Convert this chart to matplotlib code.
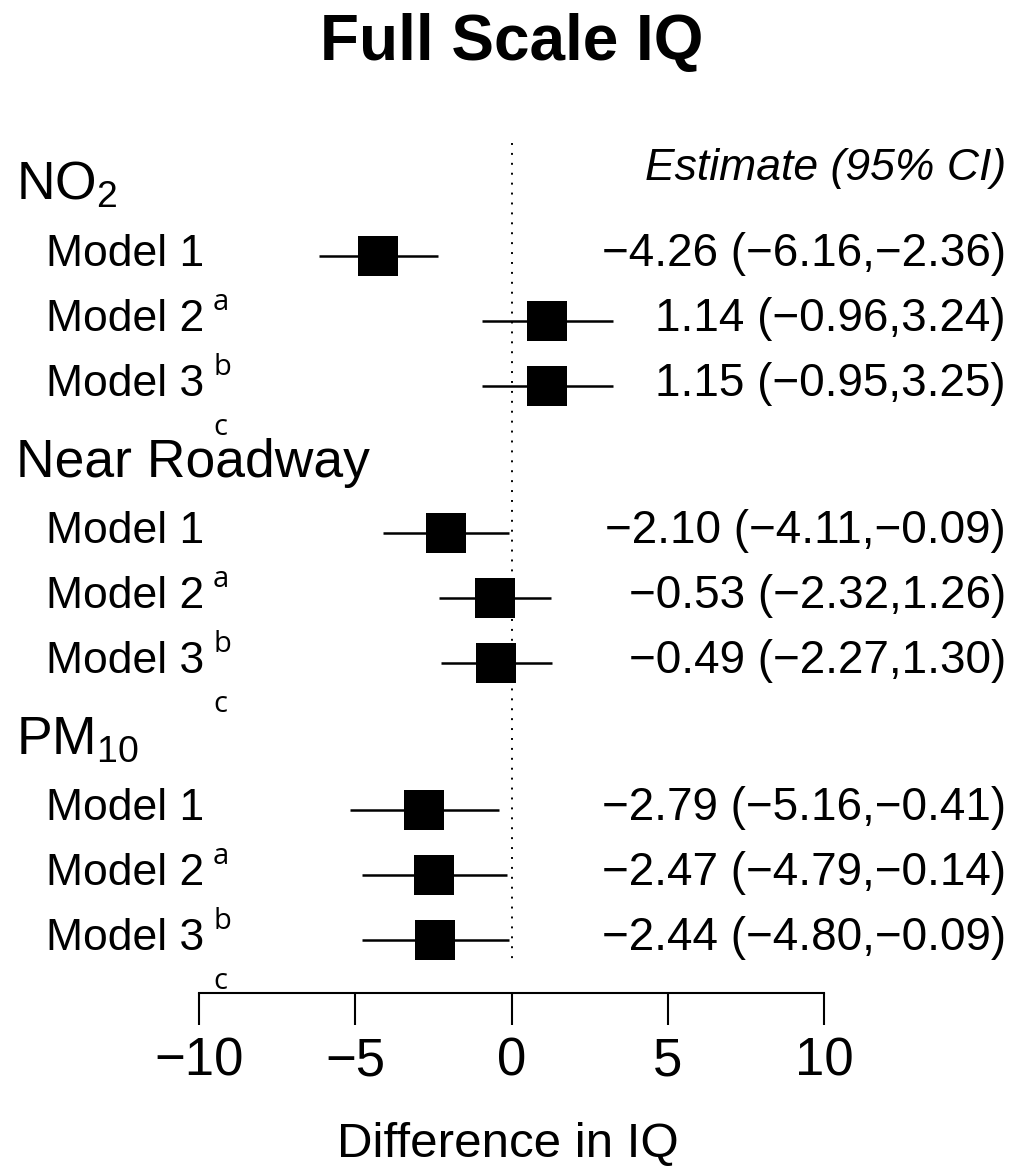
import matplotlib
matplotlib.use("Agg")
import matplotlib.pyplot as plt

plt.rcParams['font.family'] = ['Liberation Sans', 'DejaVu Sans']
plt.rcParams['mathtext.fontset'] = 'custom'
plt.rcParams['mathtext.rm'] = 'Liberation Sans'
plt.rcParams['mathtext.it'] = 'Liberation Sans:italic'
plt.rcParams['mathtext.bf'] = 'Liberation Sans:bold'

# ---------------- data ----------------
title = "Full Scale IQ"
groups = [r"NO$_2$", "Near Roadway", r"PM$_{10}$"]
models = ["Model 1", "Model 2", "Model 3"]
model_sup = ["", "a", "b"]
group_sup = "c"
est = [[-4.26, 1.14, 1.15], [-2.10, -0.53, -0.49], [-2.79, -2.47, -2.44]]
lo = [[-6.16, -0.96, -0.95], [-4.11, -2.32, -2.27], [-5.16, -4.79, -4.80]]
hi = [[-2.36, 3.24, 3.25], [-0.09, 1.26, 1.30], [-0.41, -0.14, -0.09]]
xticks = [-10, -5, 0, 5, 10]
xlabel = "Difference in IQ"
est_header = "Estimate (95% CI)"

# ---------------- layout (pixels) ----------------
W, H = 1016, 1167
DPI = 100
x0_px, px_per_unit = 511.5, 31.25
axis_px = 993
row0, row_step, group_step = 256, 65, 277

fig = plt.figure(figsize=(W / DPI, H / DPI), dpi=DPI)
ax = fig.add_axes([0, 1 - axis_px / H, 1, axis_px / H])
ax.set_xlim((0 - x0_px) / px_per_unit, (W - x0_px) / px_per_unit)
ax.set_ylim(axis_px, 0)

ov = fig.add_axes([0, 0, 1, 1], zorder=-1)
ov.set_xlim(0, W)
ov.set_ylim(H, 0)
ov.axis('off')


def fmt(v):
    return f"{v:.2f}".replace("-", "\u2212")


for g, gname in enumerate(groups):
    base = row0 + g * group_step
    # group header
    ov.text(16, base - row_step + 9, gname, fontsize=38.5, ha='left', va='baseline')
    for k, m in enumerate(models):
        y = base + k * row_step
        ax.plot([lo[g][k], hi[g][k]], [y, y], color='black', lw=1.8,
                solid_capstyle='butt', zorder=2)
        ax.plot([est[g][k]], [y], marker='s', ms=29, color='black', mec='black',
                mew=0, zorder=3)
        ov.text(46, y + 10, m, fontsize=32, ha='left', va='baseline')
        if model_sup[k]:
            ov.text(213, y - 11, model_sup[k], fontsize=21, family='Open Sans',
                    ha='left', va='baseline')
        ov.text(1006, y + 10,
                f"{fmt(est[g][k])} ({fmt(lo[g][k])},{fmt(hi[g][k])})",
                fontsize=33, ha='right', va='baseline')
    ov.text(213, base + 2 * row_step + 49, group_sup, fontsize=21, family='Open Sans',
            ha='left', va='baseline')

# reference line at zero
ax.plot([0, 0], [143, 962], color='black', lw=1.4, linestyle=(0, (1, 4.1)), zorder=1)

# header for estimate column
ov.text(1006, 180, est_header, fontsize=32, style='italic', ha='right', va='baseline')

# title
ov.text(512, 60, title, fontsize=46, fontweight='bold', ha='center', va='baseline')

# axis
for s in ['top', 'left', 'right']:
    ax.spines[s].set_visible(False)
ax.spines['bottom'].set_bounds(xticks[0], xticks[-1])
ax.spines['bottom'].set_linewidth(1.5)
ax.set_xticks(xticks)
ax.set_xticklabels([str(t).replace("-", "\u2212") for t in xticks])
ax.tick_params(axis='x', length=23, width=1.5, labelsize=38, pad=8)
ax.set_yticks([])
ax.patch.set_alpha(0)
ax.set_xlabel(xlabel, fontsize=35.5, labelpad=26)

fig.savefig("out.png", dpi=DPI)
